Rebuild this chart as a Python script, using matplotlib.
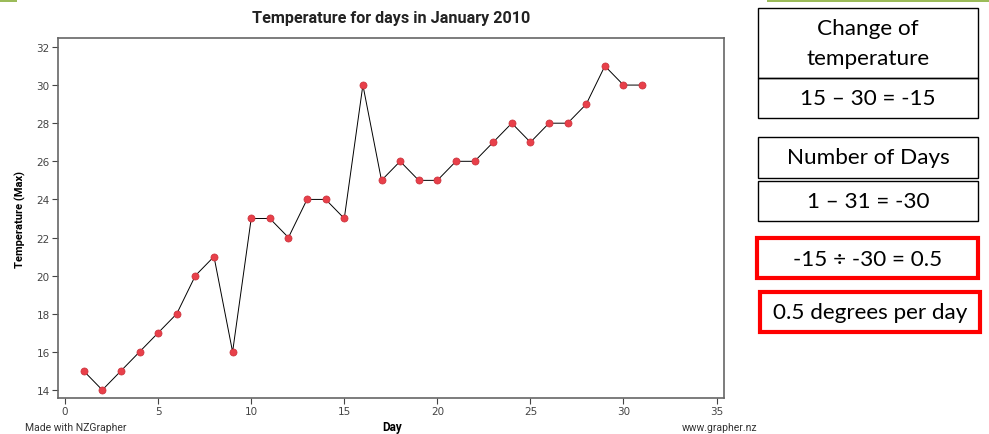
import matplotlib.pyplot as plt
from matplotlib.patches import Rectangle

# Data
days = list(range(1, 32))
temps = [15, 14, 15, 16, 17, 18, 20, 21, 16, 23, 23, 22, 24, 24, 23, 30,
         25, 26, 25, 25, 26, 26, 27, 28, 27, 28, 28, 29, 31, 30, 30]
x_ticks = [0, 5, 10, 15, 20, 25, 30, 35]
y_ticks = [14, 16, 18, 20, 22, 24, 26, 28, 30, 32]

W, H = 989, 435
fig = plt.figure(figsize=(W / 100, H / 100), dpi=100)

# axes placed in pixel coords of the reference
left, right, top, bottom = 58, 724, 39, 399
ax = fig.add_axes([left / W, 1 - bottom / H, (right - left) / W, (bottom - top) / H])
ax.plot(days, temps, color="black", lw=0.7, zorder=2)
ax.scatter(days, temps, s=26, color="#e8404a", edgecolors="#c8303a", linewidths=0.5, zorder=3)
ax.set_xlim(-0.38, 35.4)
ax.set_ylim(13.58, 32.47)
ax.set_xticks(x_ticks)
ax.set_yticks(y_ticks)
ax.tick_params(labelsize=7.5, colors="#444444", length=4, width=0.8, pad=2)
for s in ax.spines.values():
    s.set_color("#666666")
    s.set_linewidth(1.2)

font = "Roboto"
fig.text(391 / W, 1 - 18 / H, "Temperature for days in January 2010", ha="center", va="center",
         fontsize=11.6, fontweight="bold", family=font, color="#222222")
fig.text(20 / W, 1 - 219 / H, "Temperature (Max)", ha="center", va="center", rotation=90,
         fontsize=8, fontweight="bold", family=font)
fig.text(392 / W, 1 - 428 / H, "Day", ha="center", va="center", fontsize=8.5,
         fontweight="bold", family=font)
fig.text(25 / W, 1 - 428 / H, "Made with NZGrapher", ha="left", va="center", fontsize=7.5,
         color="#333333", family=font)
fig.text(757 / W, 1 - 428 / H, "www.grapher.nz", ha="right", va="center", fontsize=7.5,
         color="#333333", family=font)

# overlay in figure pixel coords
ov = fig.add_axes([0, 0, 1, 1], zorder=5)
ov.set_xlim(0, W)
ov.set_ylim(H, 0)
ov.axis("off")
ov.patch.set_alpha(0)

green = "#9bbb59"
ov.add_patch(Rectangle((0, 0), 17, 3, color=green, lw=0))
ov.add_patch(Rectangle((767, 0), 222, 2.5, color=green, lw=0))

boxes = [
    (758, 9, 220, 70, "black", 1.0),
    (758, 79, 220, 40, "black", 1.0),
    (758, 138, 220, 41, "black", 1.0),
    (758, 182, 220, 40, "black", 1.0),
    (757, 239, 221, 40, "#ff0000", 3),
    (760, 293, 220, 40, "#ff0000", 3),
]
for x, y, w, h, c, lw in boxes:
    ov.add_patch(Rectangle((x, y), w, h, fill=False, edgecolor=c, lw=lw))

tfont = "Lato"
labels = [
    (868, 29, "Change of"),
    (868, 59, "temperature"),
    (868, 99, "15 – 30 = -15"),
    (868, 158, "Number of Days"),
    (868, 202, "1 – 31 = -30"),
    (868, 260, "-15 ÷ -30 = 0.5"),
    (870, 313, "0.5 degrees per day"),
]
for x, y, t in labels:
    ov.text(x, y, t, ha="center", va="center", fontsize=16.2, family=tfont)

fig.savefig("out.png", dpi=100)
